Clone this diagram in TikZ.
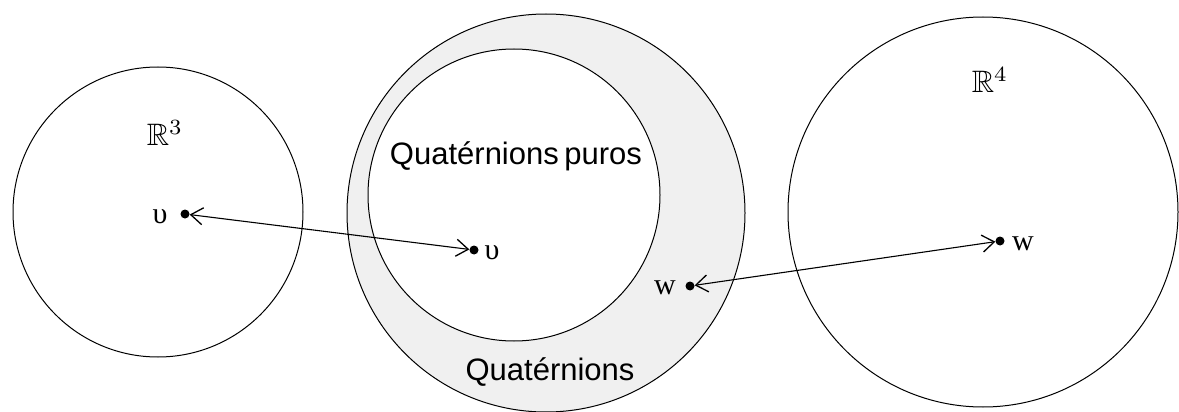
\documentclass[tikz,border=0pt]{standalone}
\usepackage{fontspec}
\usepackage{amssymb}
\newfontfamily\labfont{Liberation Sans}
\newfontfamily\varfont{Liberation Serif}
\usetikzlibrary{arrows.meta}
\tikzset{
  region/.style={draw=black, line width=1pt},
  pt/.style={circle, fill=black, inner sep=0pt, minimum size=9pt},
  var/.style={font=\varfont\fontsize{30}{34}\selectfont, inner sep=0pt},
  space/.style={scale=3.1, inner sep=0pt},
  lab/.style={font=\labfont\fontsize{31}{36}\selectfont, inner sep=0pt},
  link/.style={line width=1.1pt, {Straight Barb[length=12pt,width=17pt,line width=1.3pt]}-{Straight Barb[length=12pt,width=17pt,line width=1.3pt]}}
}
\begin{document}
\begin{tikzpicture}[x=1pt,y=1pt]
\useasboundingbox (0,0) rectangle (1179,-412);
\begin{scope}
\clip (0,0) rectangle (1179,-412);
\draw[region, fill={rgb,255:red,240;green,240;blue,240}] (546,-213) circle (199);
\draw[region, fill=white] (514,-195) circle (146);
\draw[region] (158,-212) circle (145);
\draw[region] (983,-212) circle (195);
\end{scope}
\node[space] (R3) at (165,-133) {$\mathbb{R}^3$};
\node[space] (R4) at (990,-80) {$\mathbb{R}^4$};
\node[lab] (qp) at (516,-156) {Quatérnions\hspace{-3pt} puros};
\node[lab] (q) at (550,-372) {Quatérnions};
\node[pt] (u1) at (185,-214) {};
\node[var] (u1l) at (160,-217) {υ};
\node[pt] (u2) at (474,-250) {};
\node[var] (u2l) at (492,-253) {υ};
\node[pt] (w1) at (690,-286) {};
\node[var] (w1l) at (665,-288) {w};
\node[pt] (w2) at (1000,-241) {};
\node[var] (w2l) at (1023,-244) {w};
\draw[link] (u1) -- (u2);
\draw[link] (w1) -- (w2);
\end{tikzpicture}
\end{document}
